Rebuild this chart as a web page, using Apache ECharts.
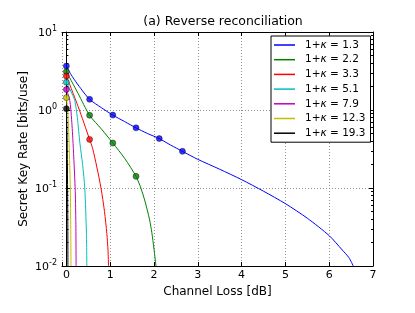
<!DOCTYPE html>
<html><head><meta charset="utf-8">
<script src="https://cdn.jsdelivr.net/npm/echarts@6/dist/echarts.min.js"></script>
<style>html,body{margin:0;padding:0;background:#fff}#c{width:415px;height:313px}</style>
</head><body><div id="c"></div>
<script>
const kappaLabels = ['1.3','2.2','3.3','5.1','7.9','12.3','19.3'];
const colors = ['#0000ff','#008000','#ff0000','#00bfbf','#bf00bf','#bfbf00','#000000'];
const xTicks = [0,1,2,3,4,5,6,7];

const line13 = [[0,3.66],[0.09,2.95],[0.176,2.48],[0.33,1.88],[0.53,1.37],[0.8,1.07],[1.06,0.86],[1.33,0.71],[1.59,0.59],[1.85,0.5],[2.12,0.43],[2.38,0.355],[2.65,0.295],[3,0.233],[3.5,0.174],[4,0.128],[4.5,0.091],[5,0.063],[5.5,0.041],[6,0.0245],[6.3,0.016],[6.45,0.0128],[6.55,0.01]];
const line22 = [[0,3.1],[0.27,1.62],[0.53,0.855],[0.8,0.57],[1.06,0.377],[1.33,0.24],[1.59,0.141],[1.7,0.1],[1.8,0.066],[1.9,0.039],[1.95,0.027],[2.0,0.0165],[2.045,0.01]];
const line33 = [[0,2.73],[0.27,1.1],[0.53,0.42],[0.6,0.32],[0.695,0.186],[0.79,0.1],[0.87,0.05],[0.924,0.026],[0.95,0.016],[0.962,0.01]];
const line51 = [[0,2.27],[0.1,1.75],[0.19,1.33],[0.25,0.8],[0.31,0.37],[0.37,0.2],[0.42,0.1],[0.458,0.026],[0.467,0.01]];
const line79 = [[0,1.83],[0.077,1.33],[0.12,0.75],[0.153,0.37],[0.2,0.1],[0.215,0.04],[0.222,0.01]];
const line123 = [[0,1.44],[0.03,1.0],[0.062,0.37],[0.09,0.1],[0.1,0.03],[0.105,0.01]];
const line193 = [[0,1.04],[0.015,0.5],[0.025,0.15],[0.032,0.04],[0.035,0.01]];

const dots13 = [[0,3.66],[0.53,1.37],[1.06,0.86],[1.59,0.59],[2.12,0.43],[2.65,0.295]];
const dots22 = [[0,3.1],[0.53,0.855],[1.06,0.377],[1.59,0.141]];
const dots33 = [[0,2.73],[0.53,0.42]];
const dots51 = [[0,2.27]];
const dots79 = [[0,1.83]];
const dots123 = [[0,1.44]];
const dots193 = [[0,1.04]];

const lines = [line13,line22,line33,line51,line79,line123,line193];
const dots = [dots13,dots22,dots33,dots51,dots79,dots123,dots193];

const chart = echarts.init(document.getElementById('c'), null, {renderer:'canvas'});
const FONT = 'DejaVu Sans';
const names = kappaLabels.map(k => '1+κ = ' + k);
const series = [];
lines.forEach((d,i) => {
  series.push({type:'line', name:names[i], data:d, smooth:0.25, showSymbol:false, symbol:'none',
    lineStyle:{color:colors[i], width:1}, itemStyle:{color:colors[i]}, z:2, xAxisIndex:0, yAxisIndex:0});
});
dots.forEach((d,i) => {
  series.push({type:'scatter', name:'pts'+i, data:d, symbol:'circle', symbolSize:6,
    itemStyle:{color:colors[i], borderColor:'#000', borderWidth:0.5}, z:3, xAxisIndex:0, yAxisIndex:0});
});

const gridStyle = {show:true, lineStyle:{color:'#777', type:[1,2], width:0.8}};
chart.setOption({
  animation:false,
  backgroundColor:'#fff',
  title:{text:'(a) Reverse reconciliation', left:218, top:10, textAlign:'center',
    textStyle:{fontFamily:FONT, fontSize:12.5, fontWeight:'normal', color:'#000'}},
  grid:{left:62, right:42, top:32, bottom:47},
  legend:{data:names, orient:'vertical', left:271, top:36, backgroundColor:'#fff',
    borderColor:'#000', borderWidth:1, borderRadius:0, padding:[2,5,2,3], itemGap:0.7,
    itemWidth:21, itemHeight:1.5, icon:'rect',
    textStyle:{fontFamily:FONT, fontSize:10.5, color:'#000', lineHeight:14, padding:[0,0,0,5],
      rich:{k:{fontStyle:'italic', fontFamily:FONT, fontSize:10.5}}},
    formatter: n => n.replace('κ','{k|κ}')},
  xAxis:[{type:'value', min:-0.1, max:7, splitNumber:7, position:'bottom',
    axisLine:{show:true, lineStyle:{color:'#000', width:1}},
    axisTick:{show:true, inside:true, length:4, lineStyle:{color:'#000'}},
    axisLabel:{fontFamily:FONT, fontSize:11, color:'#000', margin:4,
      formatter: v => (xTicks.indexOf(Math.round(v*1000)/1000) >= 0 ? String(Math.round(v)) : '')},
    splitLine:gridStyle,
    name:'Channel Loss [dB]', nameLocation:'middle', nameGap:17,
    nameTextStyle:{fontFamily:FONT, fontSize:12, color:'#000'}},
   {type:'value', min:-0.1, max:7, splitNumber:7, position:'top',
    axisLine:{show:true, onZero:false, lineStyle:{color:'#000', width:1}},
    axisTick:{show:true, inside:true, length:4, lineStyle:{color:'#000'}},
    axisLabel:{show:false}, splitLine:{show:false}}],
  yAxis:[{type:'log', logBase:10, min:0.01, max:10, position:'left',
    axisLine:{show:true, lineStyle:{color:'#000', width:1}},
    axisTick:{show:true, inside:true, length:4, lineStyle:{color:'#000'}},
    minorTick:{show:true, splitNumber:9, length:2, lineStyle:{color:'#000'}},
    axisLabel:{fontFamily:FONT, fontSize:11, color:'#000', margin:5,
      formatter: v => { const e = Math.round(Math.log10(v)); return '{b|10}{s|' + e + '}'; },
      rich:{b:{fontFamily:FONT, fontSize:11, color:'#000', verticalAlign:'bottom', lineHeight:14},
            s:{fontFamily:FONT, fontSize:8, color:'#000', verticalAlign:'top', lineHeight:14}}},
    splitLine:gridStyle,
    name:'Secret Key Rate [bits/use]', nameLocation:'middle', nameGap:32, nameMoveOverlap:false,
    nameTextStyle:{fontFamily:FONT, fontSize:12, color:'#000'}},
   {type:'log', logBase:10, min:0.01, max:10, position:'right',
    axisLine:{show:true, onZero:false, lineStyle:{color:'#000', width:1}},
    axisTick:{show:true, inside:true, length:4, lineStyle:{color:'#000'}},
    minorTick:{show:true, splitNumber:9, length:2, lineStyle:{color:'#000'}},
    axisLabel:{show:false}, splitLine:{show:false}}],
  series: series
});
</script></body></html>
